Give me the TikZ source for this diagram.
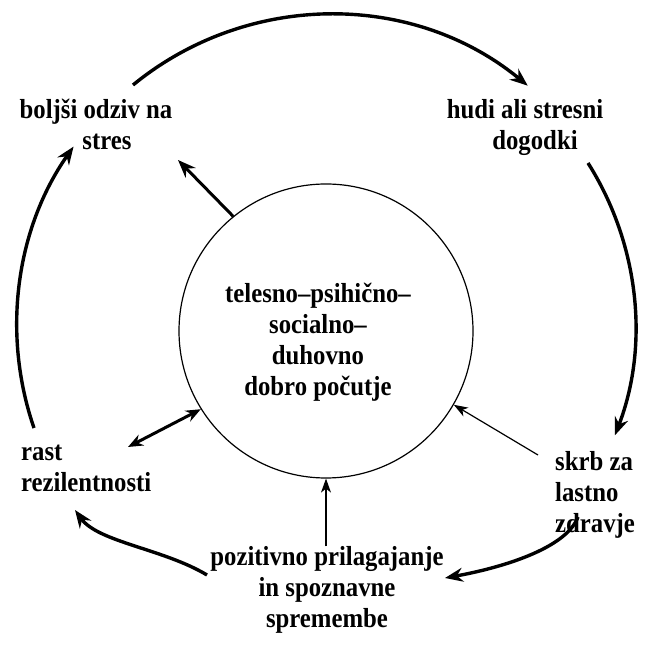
\documentclass[tikz,border=0pt]{standalone}
\usepackage{fontspec}
\setmainfont{Liberation Serif}[FakeStretch=0.9, BoldFeatures={FakeStretch=0.9}]
\usetikzlibrary{arrows.meta}
\begin{document}
\begin{tikzpicture}[x=1pt,y=1pt,
  lbl/.style={font=\fontsize{27.5}{31}\selectfont\bfseries, inner sep=0pt},
  bigarr/.style={line width=3.4pt, -{Stealth[length=18pt,width=14pt,inset=6pt]}},
  dblarr/.style={line width=3pt, {Stealth[length=15pt,width=12pt,inset=5pt]}-{Stealth[length=15pt,width=12pt,inset=5pt]}},
  thinarr/.style={line width=1.2pt, -{Stealth[length=14pt,width=10pt,inset=4pt]}},
]
\useasboundingbox (0,0) rectangle (654,654);
\node[circle, draw, line width=1.2pt, minimum size=294pt, inner sep=0pt] (c) at (326,323) {};
\node[lbl, align=center] (ctext) at (318,312) {telesno–psihično–\\socialno–\\duhovno\\dobro počutje};

\node[lbl, align=center] (bolj) at (96,530) {boljši odziv na\\\hspace*{22pt}stres};
\node[lbl, align=center] (hudi) at (525,527) {hudi ali stresni\\\hspace*{20pt}dogodki};
\node[lbl, align=left, anchor=west] (skrb) at (555,159) {skrb za\\lastno\\zdravje};
\node[lbl, align=left, anchor=west] (rast) at (21,186) {rast\\rezilentnosti};
\node[lbl, align=center] (poz) at (327,64) {pozitivno prilagajanje\\in spoznavne\\spremembe};

% outer cycle
\coordinate (tA) at (133,569);
\draw[bigarr] (tA) arc[start angle=129.3, end angle=50.5, radius=311];
\coordinate (rA) at (588,491);
\draw[bigarr] (rA) arc[start angle=32.3, end angle=-21, radius=305];
\coordinate (brS) at (578,137);
\coordinate (brT) at (445,76);
\draw[bigarr] (brS) .. controls (566,105) and (500,86) .. (brT);
\coordinate (blS) at (207,79);
\coordinate (blT) at (75,144);
\draw[bigarr] (blS) .. controls (164,105) and (98,112) .. (blT);
\coordinate (lA) at (34,226);
\draw[bigarr] (lA) arc[start angle=199, end angle=145, radius=313];

% inner connectors
\coordinate (stresT) at (178,494);
\draw[bigarr, line width=3pt] (c.129) -- (stresT);
\coordinate (rastT) at (128,207);
\draw[dblarr] (rastT) -- (c.212);
\coordinate (skrbT) at (538,199);
\draw[thinarr] (skrbT) -- (c.330);
\draw[thinarr] (c.south |- poz.north) -- (c.270);
\end{tikzpicture}
\end{document}
